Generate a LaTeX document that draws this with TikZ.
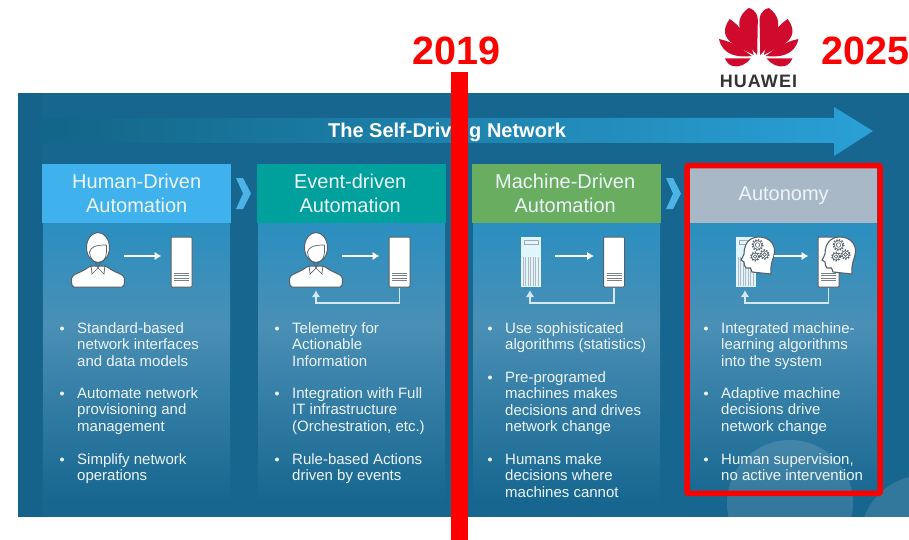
\documentclass[tikz,border=0pt]{standalone}
\usepackage{fontspec}
\setmainfont{Liberation Sans}
\usetikzlibrary{arrows.meta,calc}
\definecolor{panelbg}{HTML}{16668F}
\definecolor{iconline}{HTML}{55626C}
\definecolor{hblue}{HTML}{3FB2EE}
\definecolor{hteal}{HTML}{00A09D}
\definecolor{hgreen}{HTML}{69AE60}
\definecolor{hgrey}{HTML}{A8B8C7}
\definecolor{chev}{HTML}{4DB3E6}
\definecolor{txt}{HTML}{EEF5F9}
\definecolor{hwred}{HTML}{CF0A2C}
\definecolor{flowc}{HTML}{D5E8F2}
\definecolor{bodytop}{HTML}{2A8FC0}
\definecolor{bodymid}{HTML}{4A8FB6}
\tikzset{
  x=1pt,y=-1pt,
  header/.style={draw=none,inner sep=0,minimum width=189,minimum height=59,align=center,text=txt,font=\fontsize{20}{24}\selectfont},
  bodyp/.style={inner sep=0,anchor=north west,align=left,text=txt,font=\fontsize{15}{16.5}\selectfont},
  bulletdot/.style={circle,fill=txt,inner sep=0,minimum size=4},
  serverbox/.style={draw=iconline,fill=white,line width=1,rounded corners=1,inner sep=0,minimum width=21,minimum height=50},
  towerbox/.style={draw=none,fill=white!88!cyan,inner sep=0,minimum width=20,minimum height=50},
  anchorbox/.style={inner sep=0,minimum width=52,minimum height=68},
  headbox/.style={inner sep=0,minimum width=33,minimum height=38},
  flow/.style={draw=white,line width=1.8,-{Latex[length=7,width=8.5]}},
  back/.style={draw=flowc,line width=1.8,-{Latex[length=7,width=8.5]}},
  chevron/.style={fill=chev,draw=none},
  iconln/.style={draw=iconline,line width=1},
  yeartxt/.style={inner sep=0,text=red,font=\fontsize{39.5}{40}\selectfont\bfseries},
}
\newcommand{\bodyrect}[1]{%
  \shade[top color=bodytop,bottom color=bodymid] (#1,222) rectangle (#1+187,325);
  \shade[top color=bodymid,bottom color=panelbg] (#1,324.5) rectangle (#1+187,503);}
\newcommand{\bulp}[4]{\node[bulletdot] (#1d) at (#2-15,#3+6.5) {}; \node[bodyp] (#1) at (#2,#3) {#4};}
\newcommand{\personicon}[2]{%
  \begin{scope}[shift={(#1,#2)}]
    \path[iconln,fill=white,rounded corners=2] (-26,27) -- (-26.5,20) .. controls (-26,14) and (-17,13) .. (-8,6) -- (8,6) .. controls (17,13) and (26,14) .. (26.5,20) -- (26,27) -- cycle;
    \path[iconln,fill=white] (0,-12.5) ellipse [x radius=11.5,y radius=15];
    \draw[iconline,line width=.7] (-8.5,-8) .. controls (-7,-13) and (-3,-15) .. (8.5,-15);
    \draw[iconline,line width=.7] (-8.5,-8) .. controls (-8.5,-1) and (-3,3) .. (0,3) .. controls (4,3) and (8.5,-1) .. (8.5,-8) -- (8.5,-15);
    \draw[iconline,line width=.7] (-7,5) -- (-6,14) -- (0,8) -- (6,14) -- (7,5);
    \draw[iconline,line width=.7] (-2.5,3) -- (0,8) -- (2.5,3);
  \end{scope}}
\newcommand{\serverlines}[2]{%
  \foreach \yy in {0,2.6,5.2,7.8} \draw[iconline!80,line width=.7] (#1-7.5,#2+\yy) -- (#1+7.5,#2+\yy);}
\newcommand{\towerdetail}[2]{%
  \draw[iconline!55,line width=.6,fill=none] (#1-7,#2-22) rectangle (#1+7,#2-18);
  \foreach \xx in {-8,-5.5,...,8.5} \draw[iconline!45,line width=.5] (#1+\xx,#2-5) -- (#1+\xx,#2+24);}
\newcommand{\gearicon}[3]{%
  \draw[iconline,line width=.6] (#1,#2) circle (#3*.38);
  \draw[iconline,line width=.6] (#1,#2) circle (#3*.72);
  \draw[iconline,line width=1.4,dash pattern=on 1.4 off 1.4] (#1,#2) circle (#3*.9);}
\newcommand{\headicon}[2]{%
  \begin{scope}[shift={(#1,#2)}]
    \path[iconln,fill=white,line width=1.1] (30,37) -- (11,35) -- (9.5,31) -- (5,31) .. controls (3,30) and (3.5,27) .. (3,25) -- (0,23) .. controls (0,21) and (3,20) .. (3,17) .. controls (3,6) and (9,0) .. (18,0) .. controls (28,0) and (34,7) .. (33.5,15) .. controls (33,22) and (29,25) .. (30,37) -- cycle;
    \gearicon{16.5}{8}{6}
    \gearicon{14}{19.5}{4.8}
    \gearicon{23.5}{17.5}{5}
  \end{scope}}
\begin{document}
\begin{tikzpicture}
\useasboundingbox (0,0) rectangle (909,540);
% panel
\fill[panelbg] (18,93) rectangle (909,517);
\fill[black,opacity=.03] (18,93) rectangle (42,517);
% title arrow
\shade[left color=black!5!panelbg!85!teal,middle color={rgb,255:red,36;green,140;blue,188},right color={rgb,255:red,42;green,160;blue,214}]
  (40,118) -- (834,118) -- (834,107) -- (873,131) -- (834,156) -- (834,143) -- (40,143) -- cycle;
\node[inner sep=0,text=white,font=\fontsize{20}{24}\selectfont\bfseries] (title) at (447,132) {The Self-Driving Network};
% column bodies
\bodyrect{43}
\bodyrect{258}
\bodyrect{473}
\bodyrect{689.5}
\begin{scope}
  \clip (18,93) rectangle (909,517);
  \fill[white,opacity=.13] (790,503) circle (63);
  \fill[white,opacity=.12] (925,540) circle (65);
\end{scope}
% headers
\node[header,fill=hblue,anchor=north west] (h1) at (42,163.5) {Human-Driven\\Automation};
\node[header,fill=hteal,anchor=north west] (h2) at (257,163.5) {\hspace*{-3pt}Event-driven\\\hspace*{-3pt}Automation};
\node[header,fill=hgreen,anchor=north west] (h3) at (472,163.5) {\hspace*{-3pt}Machine-Driven\\\hspace*{-3pt}Automation};
\node[header,fill=hgrey,anchor=north west,minimum width=187,minimum height=55] (h4) at (690,168) {\raisebox{-1pt}{Autonomy}};
% chevrons
\foreach \cx in {236,666} {
  \fill[chevron] (\cx,178) -- (\cx+7,178) -- (\cx+15,193.5) -- (\cx+7,209) -- (\cx,209) -- (\cx+7,193.5) -- cycle;
}
% column 1 icons
\node[anchorbox] (p1) at (98,256) {};
\personicon{98}{260}
\node[serverbox] (s1) at (181.5,262) {};
\serverlines{181.5}{273}
\draw[flow,shorten >=9] (p1.east) -- (s1.west |- p1.east);
% column 2 icons
\node[anchorbox] (p2) at (316,256) {};
\personicon{316}{260}
\node[serverbox] (s2) at (399.5,262) {};
\serverlines{399.5}{273}
\draw[flow,shorten >=9] (p2.east) -- (s2.west |- p2.east);
\draw[back] (s2.south) |- (316,303) -- (p2.south);
% column 3 icons
\node[towerbox] (t3) at (531,262) {};
\towerdetail{531}{262}
\node[serverbox] (s3) at (614,262) {};
\serverlines{614}{273}
\draw[flow,shorten >=9,shorten <=14] (t3.east |- p2.east) -- (s3.west |- p2.east);
\draw[back,shorten >=3] (s3.south) |- (530,303) -- (530,287);
% column 4 icons
\node[towerbox] (t4) at (746,262) {};
\towerdetail{746}{262}
\node[serverbox] (s4) at (828.5,262) {};
\serverlines{828.5}{273}
\node[headbox] (m4a) at (757.5,256) {};
\node[headbox] (m4b) at (838.5,256) {};
\headicon{741}{237}
\headicon{822}{237}
\draw[flow,shorten >=9] (m4a.east) -- (s4.west |- m4a.east);
\draw[back,shorten >=3] (s4.south) |- (745,303) -- (745,287);
% text col 1
\bulp{a1}{77}{322}{Standard-based\\network interfaces\\and data models}
\bulp{a2}{77}{387}{Automate network\\provisioning and\\management}
\bulp{a3}{77}{453}{Simplify network\\operations}
% text col 2
\bulp{b1}{292}{322}{Telemetry for\\Actionable\\Information}
\bulp{b2}{292}{387}{Integration with Full\\IT infrastructure\\(Orchestration, etc.)}
\bulp{b3}{292}{453}{Rule-based Actions\\driven by events}
% text col 3
\bulp{c1}{505}{322}{Use sophisticated\\algorithms (statistics)}
\bulp{c2}{505}{371}{Pre-programed\\machines makes\\decisions and drives\\network change}
\bulp{c3}{505}{453}{Humans make\\decisions where\\machines cannot}
% text col 4
\bulp{d1}{721}{322}{Integrated machine-\\learning algorithms\\into the system}
\bulp{d2}{721}{387}{Adaptive machine\\decisions drive\\network change}
\bulp{d3}{721}{453}{Human supervision,\\no active intervention}
% highlight box
\draw[red,line width=5.5,rounded corners=1] (687,165.7) rectangle (880,493.3);
% timeline
\fill[red] (451,72) rectangle (468,540);
\node[yeartxt] (y2019) at (456.5,51) {2019};
\node[yeartxt] (y2025) at (865.5,51) {2025};
% logo
\begin{scope}[shift={(758.7,0)}]
  \foreach \sx in {1,-1} {
    \begin{scope}[xscale=\sx]
      \fill[hwred] (-1.5,55) .. controls (-14,42) and (-30,22) .. (-10,8) .. controls (-3,10) and (0,15) .. (-1,25) -- cycle;
      \fill[hwred] (-5,55) .. controls (-20,47) and (-44,40) .. (-29,19) .. controls (-20,25) and (-10,36) .. (-5,55) -- cycle;
      \fill[hwred] (-39.7,39) .. controls (-25,42) and (-15,50) .. (-7,56) .. controls (-20,57.5) and (-36,56) .. (-39.7,39) -- cycle;
      \fill[hwred] (-33.7,58.5) -- (-8,58.5) .. controls (-12,64) and (-20,68) .. (-26,66) .. controls (-30,65) and (-32,62) .. (-33.7,58.5) -- cycle;
    \end{scope}
  }
\end{scope}
\node[inner sep=0,text=black!80,font=\fontsize{18}{20}\selectfont] (hw) at (759,81.5) {\addfontfeature{LetterSpace=6}\textbf{HUAWEI}};
\end{tikzpicture}
\end{document}
